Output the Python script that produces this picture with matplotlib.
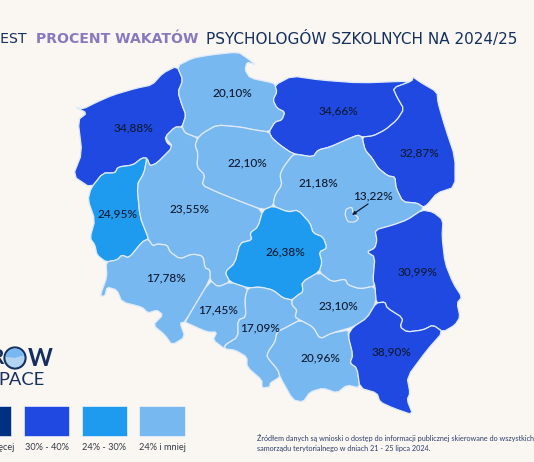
import matplotlib
matplotlib.use("Agg")
import matplotlib.pyplot as plt
from matplotlib.patches import Polygon, Rectangle, Circle, Wedge

BG = "#faf6f2"
C_TOP, C_HIGH, C_MID, C_LOW = "#003080", "#2049e2", "#1e9bef", "#78b8f1"
NAVY = "#14305f"
PURPLE = "#8a78bf"

regions = ["zachodniopomorskie", "pomorskie", "warminsko-mazurskie", "podlaskie",
           "lubuskie", "wielkopolskie", "kujawsko-pomorskie", "mazowieckie",
           "warszawa", "lodzkie", "lubelskie", "dolnoslaskie", "opolskie",
           "slaskie", "swietokrzyskie", "malopolskie", "podkarpackie"]
values = [34.88, 20.10, 34.66, 32.87, 24.95, 23.55, 22.10, 21.18, 13.22, 26.38,
          30.99, 17.78, 17.45, 17.09, 23.10, 20.96, 38.90]
label_xy = [(133, 128), (232, 93), (338, 111), (419, 153), (117, 214), (190, 209),
            (247, 163), (318, 183), (373, 196), (285, 252), (418, 272), (166, 278),
            (218, 310), (260, 328), (338, 306), (320, 358), (392, 352)]

outlines = {
    "zachodniopomorskie": [(75,107),(83,109),(97,102),(113,95),(137,88),(152,85),(163,73),(177,66),(183,80),(178,92),(182,105),(186,115),(182,127),(175,127),(165,137),(167,143),(173,147),(167,153),(157,163),(150,166),(147,158),(142,158),(133,165),(118,167),(115,173),(103,173),(91,188),(73,176),(82,153),(78,120),(87,113)],
    "pomorskie": [(177,66),(193,58),(210,55),(238,52),(247,58),(256,65),(247,62),(245,70),(250,78),(273,83),(275,85),(277,92),(273,100),(277,108),(285,112),(282,120),(275,122),(269,132),(255,130),(240,127),(217,125),(203,133),(198,138),(185,133),(182,127),(186,115),(182,105),(178,92),(183,80)],
    "warminsko-mazurskie": [(292,76),(320,80),(360,83),(412,81),(393,88),(397,97),(404,109),(397,120),(385,130),(373,136),(362,137),(358,135),(348,139),(330,147),(318,150),(313,157),(295,154),(290,152),(280,145),(272,138),(269,132),(275,122),(282,120),(285,112),(277,108),(273,100),(277,92),(275,85)],
    "podlaskie": [(412,81),(413,77),(420,82),(437,92),(438,103),(445,127),(455,157),(455,187),(437,193),(427,205),(423,207),(417,203),(403,202),(396,188),(395,177),(388,176),(378,168),(372,158),(365,150),(362,137),(373,136),(385,130),(397,120),(404,109),(397,97),(393,88)],
    "lubuskie": [(91,188),(103,173),(115,173),(118,167),(133,165),(142,158),(147,158),(144,173),(137,185),(140,217),(148,237),(148,239),(142,242),(129,258),(122,255),(117,260),(106,262),(97,255),(95,245),(90,238),(95,220),(88,200)],
    "wielkopolskie": [(147,158),(150,166),(157,163),(173,147),(165,137),(175,127),(182,127),(185,133),(198,138),(195,145),(198,153),(197,167),(205,175),(202,185),(217,192),(237,200),(263,210),(258,227),(250,233),(252,240),(240,243),(235,263),(225,272),(230,282),(218,287),(210,280),(210,270),(205,268),(203,256),(192,254),(180,259),(170,252),(167,245),(157,244),(153,246),(148,239),(148,237),(140,217),(137,185),(144,173)],
    "kujawsko-pomorskie": [(198,138),(203,133),(217,125),(240,127),(255,130),(269,132),(272,138),(280,145),(290,152),(295,154),(291,157),(283,168),(280,175),(282,185),(275,195),(273,206),(263,210),(237,200),(217,192),(202,185),(205,175),(197,167),(198,153),(195,145)],
    "mazowieckie": [(358,135),(348,139),(330,147),(318,150),(313,157),(295,154),(291,157),(283,168),(280,175),(282,185),(275,195),(273,206),(288,212),(298,210),(310,223),(313,233),(323,237),(327,248),(319,252),(322,262),(319,272),(332,282),(345,279),(348,285),(360,289),(375,286),(373,280),(375,257),(367,252),(375,248),(377,240),(375,230),(393,225),(407,220),(422,210),(423,207),(417,203),(403,202),(396,188),(395,177),(388,176),(378,168),(372,158),(365,150),(362,137)],
    "warszawa": [(346,209),(352,207),(353,213),(359,218),(355,222),(348,222),(345,215)],
    "lodzkie": [(273,206),(288,212),(298,210),(310,223),(313,233),(323,237),(327,248),(319,252),(322,262),(319,272),(302,282),(303,292),(298,295),(292,300),(283,298),(273,290),(260,287),(248,288),(230,282),(225,272),(235,263),(240,243),(252,240),(250,233),(258,227),(263,210)],
    "lubelskie": [(375,230),(393,225),(407,220),(422,210),(433,212),(443,220),(442,237),(445,263),(453,283),(462,297),(457,303),(460,317),(455,325),(443,332),(433,325),(423,330),(407,332),(400,327),(403,318),(387,308),(385,302),(376,303),(375,286),(373,280),(375,257),(367,252),(375,248),(377,240)],
    "dolnoslaskie": [(106,262),(117,260),(122,255),(129,258),(142,242),(148,239),(153,246),(157,244),(167,245),(170,252),(180,259),(192,254),(203,256),(205,268),(210,270),(210,280),(185,322),(180,323),(185,337),(172,345),(165,335),(153,325),(163,315),(157,310),(148,313),(142,307),(122,302),(117,290),(107,287),(105,296),(100,296),(107,277)],
    "opolskie": [(210,280),(218,287),(230,282),(248,288),(245,298),(246,317),(238,320),(238,337),(225,345),(225,349),(213,340),(217,332),(207,332),(187,323),(185,322)],
    "slaskie": [(248,288),(260,287),(273,290),(283,298),(292,300),(292,305),(297,310),(295,317),(300,320),(287,327),(277,332),(275,342),(268,352),(267,357),(278,370),(280,377),(270,383),(270,387),(262,388),(262,380),(247,367),(247,357),(235,350),(225,349),(225,345),(238,337),(238,320),(246,317),(245,298)],
    "swietokrzyskie": [(319,272),(332,282),(345,279),(348,285),(360,289),(375,286),(376,303),(367,318),(353,327),(332,333),(320,339),(313,327),(300,320),(295,317),(297,310),(292,305),(292,300),(298,295),(303,292),(302,282)],
    "malopolskie": [(300,320),(313,327),(320,339),(332,333),(349,330),(348,335),(353,355),(350,363),(357,368),(360,388),(347,385),(337,393),(323,388),(310,392),(303,402),(293,400),(280,377),(278,370),(267,357),(268,352),(275,342),(277,332),(287,327)],
    "podkarpackie": [(376,303),(385,302),(387,308),(403,318),(400,327),(407,332),(423,330),(433,325),(443,332),(427,350),(407,377),(410,393),(407,400),(413,415),(393,408),(380,402),(377,393),(360,388),(357,368),(350,363),(353,355),(348,335),(353,327),(367,318)],
}

legend_labels = ["40% i więcej", "30% - 40%", "24% - 30%", "24% i mniej"]
legend_colors = [C_TOP, C_HIGH, C_MID, C_LOW]
legend_left = [-35, 23.5, 81.5, 139]


def bin_color(v):
    if v >= 40:
        return C_TOP
    if v >= 30:
        return C_HIGH
    if v > 24:
        return C_MID
    return C_LOW


def soften(points, t=0.18):
    """Cut each corner slightly so outlines read as organic rather than faceted."""
    out = []
    n = len(points)
    for i in range(n):
        x0, y0 = points[i]
        x1, y1 = points[(i + 1) % n]
        out.append((x0 + (x1 - x0) * t, y0 + (y1 - y0) * t))
        out.append((x1 - (x1 - x0) * t, y1 - (y1 - y0) * t))
    return out


fig = plt.figure(figsize=(5.34, 4.62), dpi=100, facecolor=BG)
ax = fig.add_axes([0, 0, 1, 1])
ax.set_xlim(0, 534)
ax.set_ylim(462, 0)
ax.axis("off")

for name, v, (lx, ly) in zip(regions, values, label_xy):
    ax.add_patch(Polygon(soften(outlines[name]), closed=True, facecolor=bin_color(v),
                         edgecolor="#dfeafa", lw=0.9, joinstyle="round", zorder=2))
    ax.text(lx, ly, f"{v:.2f}%".replace(".", ","), ha="center", va="center",
            family="Lato", fontsize=8.6, fontweight="medium", color="#0d1a30", zorder=5)

ax.annotate("", xy=(352, 215), xytext=(368, 204), zorder=5,
            arrowprops=dict(arrowstyle="-|>", color="#0d1a30", lw=0.9, mutation_scale=5,
                            shrinkA=0, shrinkB=0))

# title
TY = 39
ax.text(-3, TY, "JEST", ha="left", va="center", family="DejaVu Sans", fontsize=10.2, color=NAVY)
ax.text(36, TY, "PROCENT WAKATÓW", ha="left", va="center", family="DejaVu Sans",
        fontsize=10.1, fontweight="bold", color=PURPLE)
ax.text(206, TY, "PSYCHOLOGÓW SZKOLNYCH NA 2024/25", ha="left", va="center",
        family="DejaVu Sans", fontsize=10.95, color=NAVY)

# legend
for left, col in zip(legend_left, legend_colors):
    ax.add_patch(Rectangle((left, 406), 45.5, 30, facecolor=col, edgecolor="#ffffff",
                           lw=0.4, zorder=2))
ax.text(14, 447, legend_labels[0], ha="right", va="center", family="Lato", fontsize=6.6, color="#333a45")
for left, lab in zip(legend_left[1:], legend_labels[1:]):
    ax.text(left + 23, 447, lab, ha="center", va="center", family="Lato", fontsize=6.6, color="#333a45")

# logo
ax.text(3.5, 358, "R", ha="right", va="center", family="Lato", fontsize=15, fontweight="bold", color=NAVY)
ax.text(27.5, 358, "W", ha="left", va="center", family="Lato", fontsize=17, fontweight="bold", color=NAVY)
ax.add_patch(Circle((15, 358), 10.5, facecolor=BG, edgecolor=NAVY, lw=1.6, zorder=3))
ax.add_patch(Wedge((15, 358), 9.6, 185, 345, facecolor=C_LOW, edgecolor="none", zorder=4))
ax.add_patch(Wedge((15, 358), 9.6, 345, 185, facecolor=C_LOW, alpha=0.55, edgecolor="none", zorder=4))
ax.text(-1.5, 380, "PACE", ha="left", va="center", family="Lato", fontsize=13.2, color=NAVY)

# source note
ax.text(257, 438.5, "Źródłem danych są wnioski o dostęp do informacji publicznej skierowane do wszystkich",
        ha="left", va="center", family="Lato", fontsize=5.2, color="#2b3f6b")
ax.text(257, 448.5, "samorządu terytorialnego w dniach 21 - 25 lipca 2024.",
        ha="left", va="center", family="Lato", fontsize=5.2, color="#2b3f6b")

fig.savefig("out.png", dpi=100, facecolor=BG)
